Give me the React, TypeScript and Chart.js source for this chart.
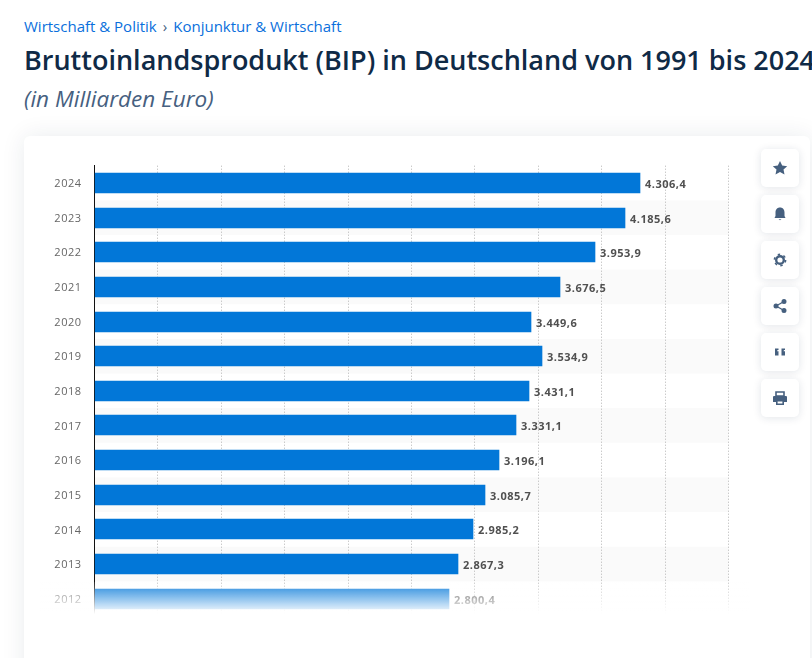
import { useEffect, useRef } from "react";
import { Chart, registerables } from "chart.js";

Chart.register(...registerables);

const years = ["2024", "2023", "2022", "2021", "2020", "2019", "2018", "2017", "2016", "2015", "2014", "2013", "2012"];
const gdp = [4306.4, 4185.6, 3953.9, 3676.5, 3449.6, 3534.9, 3431.1, 3331.1, 3196.1, 3085.7, 2985.2, 2867.3, 2800.4];
const xTicks = [0, 500, 1000, 1500, 2000, 2500, 3000, 3500, 4000, 4500, 5000];

const FONT = '"Open Sans", sans-serif';
const BLUE = "#0277d8";
const ICON = "#46607f";

const fmt = new Intl.NumberFormat("de-DE", { minimumFractionDigits: 1, maximumFractionDigits: 1 });

// streifen hinter jeder zweiten zeile + sperrung der schrift
const rowBands = {
  id: "rowBands",
  beforeDraw(chart: any) {
    const { ctx, chartArea, scales } = chart;
    ctx.letterSpacing = "0.5px";
    const step = scales.y.getPixelForValue(1) - scales.y.getPixelForValue(0);
    ctx.save();
    ctx.fillStyle = "#fafafa";
    years.forEach((_, i) => {
      if (i % 2 === 0) return;
      const c = scales.y.getPixelForValue(i);
      ctx.fillRect(chartArea.left, c - step / 2, chartArea.right - chartArea.left, step);
    });
    ctx.restore();
  },
};

// balken aufs pixelraster, sonst werden die kanten unscharf
const snapBars = {
  id: "snapBars",
  beforeDatasetsDraw(chart: any) {
    chart.getDatasetMeta(0).data.forEach((bar: any) => {
      bar.y = Math.round(bar.y);
      bar.x = Math.floor(bar.x);
    });
  },
};

const valueLabels = {
  id: "valueLabels",
  afterDatasetsDraw(chart: any) {
    const { ctx } = chart;
    ctx.save();
    ctx.font = `700 11px ${FONT}`;
    ctx.fillStyle = "#505050";
    ctx.textBaseline = "middle";
    chart.getDatasetMeta(0).data.forEach((bar: any, i: number) => {
      ctx.fillText(fmt.format(gdp[i]), bar.x + 5, bar.y + 2);
    });
    ctx.restore();
  },
};

function GdpChart() {
  const ref = useRef<HTMLCanvasElement>(null);

  useEffect(() => {
    if (!ref.current) return;
    const chart = new Chart(ref.current, {
      type: "bar",
      data: {
        labels: years,
        datasets: [{ data: gdp, backgroundColor: BLUE, barThickness: 20, borderWidth: 0 }],
      },
      options: {
        indexAxis: "y",
        responsive: false,
        animation: false,
        layout: { padding: { top: 29.7, right: 31.5, bottom: 24, left: 0 } },
        plugins: { legend: { display: false }, tooltip: { enabled: false } },
        scales: {
          x: {
            min: 0,
            max: 5000,
            afterBuildTicks: (axis: any) => {
              axis.ticks = xTicks.map((value) => ({ value }));
            },
            ticks: { display: false },
            border: { display: false, dash: [1, 2] },
            grid: {
              color: "#b4b4b4",
              lineWidth: 1,
              drawTicks: false,
            },
          },
          y: {
            afterFit: (axis: any) => {
              axis.width = 70.5;
            },
            border: { display: true, color: "#111111", width: 1 },
            grid: { display: false, drawTicks: false },
            ticks: {
              color: "#666666",
              padding: 13,
              labelOffset: 1,
              font: { family: FONT, size: 11 },
            },
          },
        },
      } as any,
      plugins: [rowBands, snapBars, valueLabels],
    });
    return () => chart.destroy();
  }, []);

  return (
    <canvas
      ref={ref}
      width={736}
      height={504}
      style={{ position: "absolute", left: 24, top: 136, display: "block" }}
    />
  );
}

const icons = [
  <polygon key="star" points="12,5 14.2,9.6 19.2,10.2 15.5,13.6 16.5,18.6 12,16.1 7.5,18.6 8.5,13.6 4.8,10.2 9.8,9.6" fill={ICON} />,
  <path key="bell" d="M12 5.5c-3 0-4.5 2.3-4.5 5v3.5L6.5 16h11l-1-2v-3.5c0-2.7-1.5-5-4.5-5zM10.5 17.3h3L12 18.3z" fill={ICON} />,
  <g key="gear" fill="none" stroke={ICON}>
    <circle cx="12" cy="12" r="3.8" strokeWidth="2.4" />
    <circle cx="12" cy="12" r="5.6" strokeWidth="1.6" strokeDasharray="2.4 3.46" />
  </g>,
  <g key="share" fill={ICON} stroke={ICON} strokeWidth="1.4">
    <line x1="16" y1="7.5" x2="8" y2="12" />
    <line x1="16" y1="16.5" x2="8" y2="12" />
    <circle cx="16" cy="7.5" r="1.8" />
    <circle cx="16" cy="16.5" r="1.8" />
    <circle cx="8" cy="12" r="1.8" />
  </g>,
  <path key="quote" d="M7 8.5h3.5v1.5c-1 0-1.4.4-1.4 1.2h1.4v4.3H7zM13.5 8.5H17v1.5c-1 0-1.4.4-1.4 1.2H17v4.3h-3.5z" fill={ICON} />,
  <g key="print" fill={ICON}>
    <path d="M8 6h8v4H8z" fill="none" stroke={ICON} strokeWidth="1.6" />
    <path d="M6 10h12a1 1 0 0 1 1 1v5h-3v-2H8v2H5v-5a1 1 0 0 1 1-1z" />
    <path d="M8.8 14.8h6.4v3.4H8.8z" fill="none" stroke={ICON} strokeWidth="1.6" />
  </g>,
];

export default function App() {
  return (
    <div
      style={{
        position: "fixed",
        left: 0,
        top: 0,
        width: 812,
        height: 658,
        overflow: "hidden",
        background: "#ffffff",
        fontFamily: FONT,
      }}
    >
      <div style={{ position: "absolute", left: 24, top: 15.5, fontSize: 15, lineHeight: "20px", color: "#0a6fdc", whiteSpace: "nowrap" }}>
        Wirtschaft &amp; Politik<span style={{ margin: "0 6px", color: "#46607f" }}>›</span>Konjunktur &amp; Wirtschaft
      </div>
      <div style={{ position: "absolute", left: 24, top: 41.5, fontSize: 27, fontWeight: 600, lineHeight: "36px", color: "#0f2a46", whiteSpace: "nowrap" }}>
        Bruttoinlandsprodukt (BIP) in Deutschland von 1991 bis 2024
      </div>
      <div style={{ position: "absolute", left: 24, top: 84, fontSize: 22.5, fontStyle: "italic", lineHeight: "30px", color: "#46607f", whiteSpace: "nowrap" }}>
        (in Milliarden Euro)
      </div>

      <div
        style={{
          position: "absolute",
          left: 24,
          top: 136,
          width: 786,
          height: 560,
          background: "#ffffff",
          borderRadius: 6,
          boxShadow: "0 0 24px rgba(15,42,70,0.09)",
        }}
      />
      <GdpChart />
      {/* 2012 läuft nach unten aus */}
      <div
        style={{
          position: "absolute",
          left: 40,
          top: 582,
          width: 710,
          height: 36,
          background: "linear-gradient(to bottom, rgba(255,255,255,0.1), rgba(255,255,255,1) 32px)",
        }}
      />

      {icons.map((icon, i) => (
        <div
          key={i}
          style={{
            position: "absolute",
            left: 761,
            top: 149 + i * 46,
            width: 38,
            height: 38,
            borderRadius: 5,
            background: "#ffffff",
            boxShadow: "0 1px 8px rgba(15,42,70,0.12)",
            display: "flex",
            alignItems: "center",
            justifyContent: "center",
          }}
        >
          <svg width="24" height="24" viewBox="0 0 24 24">
            {icon}
          </svg>
        </div>
      ))}
    </div>
  );
}
